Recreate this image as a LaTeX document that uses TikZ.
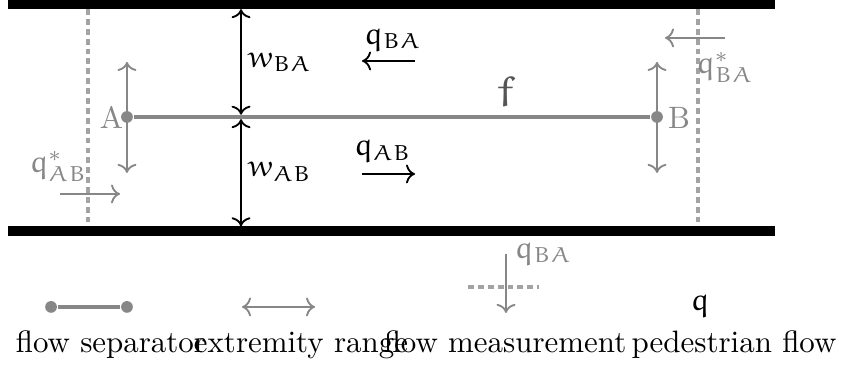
\documentclass[tikz,border=0pt]{standalone}
\usepackage{beton}
\usetikzlibrary{arrows.meta, positioning, calc}
\DeclareFontFamily{U}{eur}{\skewchar\font'177}
\DeclareFontShape{U}{eur}{m}{n}{<-6>eurm5<6-8>eurm7<8->eurm10}{}
\DeclareMathAlphabet{\mathe}{U}{eur}{m}{n}
\newcommand{\eq}[2]{\mathe{#1}_{\mathe{#2}}}
\definecolor{sepgray}{HTML}{878787}
\definecolor{dashgray}{HTML}{A3A3A3}
\definecolor{fgray}{HTML}{555555}

\begin{document}
\begin{tikzpicture}[line width=0.6pt,
  wall/.style={black, line width=3pt},
  sepline/.style={sepgray, line width=1.3pt},
  sepdot/.style={circle, fill=sepgray, inner sep=0pt, minimum size=3.8pt},
  extrange/.style={<->, sepgray},
  measline/.style={dashgray, line width=1.5pt, dash pattern=on 1.9pt off 1.3pt},
  gaparrow/.style={<->, black},
  flowarrow/.style={->, black},
  mflow/.style={->, sepgray},
  glabel/.style={text=sepgray, inner sep=0pt},
  legtext/.style={anchor=base, inner sep=0pt}]

\useasboundingbox (0,0) rectangle (9.591,4.170);

% =========== CORRIDOR ===========
\coordinate (wallTL) at (0.091,4.119);
\coordinate (wallTR) at (8.807,4.119);
\coordinate (wallBL) at (0.091,1.545);
\coordinate (wallBR) at (8.807,1.545);
\draw[wall] (wallTL) -- (wallTR);
\draw[wall] (wallBL) -- (wallBR);

% flow measurements at both ends
\coordinate (mAtop) at (1.0,4.068);
\coordinate (mAbot) at (1.0,1.648);
\coordinate (mBtop) at (7.932,4.068);
\coordinate (mBbot) at (7.932,1.648);
\draw[measline] (mAtop) -- (mAbot);
\draw[measline] (mBtop) -- (mBbot);

% separator with its extremities
\coordinate (Aup) at (1.443,3.466);
\coordinate (Adown) at (1.443,2.205);
\coordinate (Bup) at (7.466,3.466);
\coordinate (Bdown) at (7.466,2.205);
\draw[extrange] (Aup) -- (Adown);
\draw[extrange] (Bup) -- (Bdown);

\node[sepdot] (A) at (1.443,2.841) {};
\node[sepdot] (B) at (7.466,2.841) {};
\draw[sepline] (A) -- (B);
\node[glabel] (Alab) at (1.267,2.835) {A};
\node[glabel] (Blab) at (7.716,2.825) {B};
\node[text=fgray, inner sep=0pt, font=\Large] (flab) at (5.75,3.136) {$\mathe{f}$};

% widths on both sides
\coordinate (wTop) at (2.739,4.066);
\coordinate (wMidU) at (2.739,2.866);
\coordinate (wMidD) at (2.739,2.816);
\coordinate (wBot) at (2.739,1.598);
\draw[gaparrow] (wTop) -- (wMidU);
\draw[gaparrow] (wMidD) -- (wBot);
\node[inner sep=0pt] (wBA) at (3.182,3.460) {$\eq{w}{BA}$};
\node[inner sep=0pt] (wAB) at (3.182,2.216) {$\eq{w}{AB}$};

% pedestrian flows
\coordinate (qBAs) at (4.716,3.477);
\coordinate (qBAe) at (4.114,3.477);
\coordinate (qABs) at (4.114,2.193);
\coordinate (qABe) at (4.716,2.193);
\draw[flowarrow] (qBAs) -- (qBAe);
\draw[flowarrow] (qABs) -- (qABe);
\node[inner sep=0pt] (qBA) at (4.466,3.716) {$\eq{q}{BA}$};
\node[inner sep=0pt] (qAB) at (4.352,2.449) {$\eq{q}{AB}$};

% measured flows
\coordinate (mBAs) at (8.239,3.739);
\coordinate (mBAe) at (7.557,3.739);
\coordinate (mABs) at (0.682,1.966);
\coordinate (mABe) at (1.364,1.966);
\draw[mflow] (mBAs) -- (mBAe);
\draw[mflow] (mABs) -- (mABe);
\node[glabel] (qsBA) at (8.239,3.403) {$\mathe{q}^*_{\mathe{BA}}$};
\node[glabel] (qsAB) at (0.665,2.278) {$\mathe{q}^*_{\mathe{AB}}$};

% =========== LEGEND ===========
\node[sepdot] (legA) at (0.580,0.682) {};
\node[sepdot] (legB) at (1.443,0.682) {};
\draw[sepline] (legA) -- (legB);

\coordinate (legRl) at (2.75,0.682);
\coordinate (legRr) at (3.580,0.682);
\draw[extrange] (legRl) -- (legRr);

\coordinate (legMl) at (5.318,0.909);
\coordinate (legMr) at (6.125,0.909);
\coordinate (legMs) at (5.75,1.284);
\coordinate (legMe) at (5.75,0.614);
\draw[measline] (legMl) -- (legMr);
\draw[mflow] (legMs) -- (legMe);
\node[glabel] (legqBA) at (6.176,1.284) {$\eq{q}{BA}$};

\node[inner sep=0pt] (legq) at (7.955,0.693) {$\mathe{q}$};

\node[legtext] (tsep) at (1.261,0.159) {flow separator};
\node[legtext] (trange) at (3.420,0.159) {extremity range};
\node[legtext] (tmeas) at (5.739,0.159) {flow measurement};
\node[legtext] (tped) at (8.341,0.159) {pedestrian flow};

\end{tikzpicture}
\end{document}
